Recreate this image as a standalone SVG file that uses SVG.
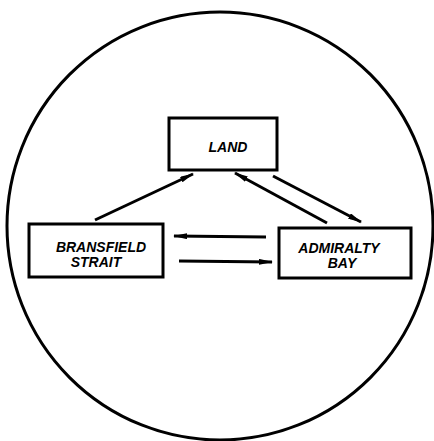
<svg xmlns="http://www.w3.org/2000/svg" width="434" height="441" viewBox="0 0 434 441">
<style>
.box{fill:#fff;stroke:#000;stroke-width:3}
.lbl{font-family:"Liberation Sans",Arial,sans-serif;font-weight:bold;font-style:italic;font-size:14px;fill:#000;text-anchor:middle}
.conn{stroke:#000;stroke-width:3;fill:none;marker-end:url(#ah)}
</style>
<defs>
<marker id="ah" viewBox="0 0 14 6" refX="13" refY="3" markerWidth="14" markerHeight="6" markerUnits="userSpaceOnUse" orient="auto">
<path d="M0,0 L14,3 L0,6 Z" fill="#000"/>
</marker>
</defs>
<rect width="434" height="441" fill="#fff"/>
<ellipse cx="220" cy="226" rx="213" ry="214" fill="none" stroke="#000" stroke-width="3"/>
<g id="connectors">
<line class="conn" x1="95" y1="220" x2="193" y2="174"/>
<line class="conn" x1="327" y1="223" x2="235" y2="173"/>
<line class="conn" x1="273" y1="176" x2="361" y2="222"/>
<line class="conn" x1="266" y1="237" x2="174" y2="236"/>
<line class="conn" x1="179" y1="261" x2="272" y2="262"/>
</g>
<g id="land">
<rect class="box" x="169" y="118" width="108" height="52"/>
<text class="lbl" x="228" y="152">LAND</text>
</g>
<g id="bransfield">
<rect class="box" x="29" y="224" width="134" height="53"/>
<text class="lbl" x="101" y="252">BRANSFIELD</text>
<text class="lbl" x="96" y="267">STRAIT</text>
</g>
<g id="admiralty">
<rect class="box" x="279" y="228" width="132" height="50"/>
<text class="lbl" x="339" y="253">ADMIRALTY</text>
<text class="lbl" x="342" y="268">BAY</text>
</g>
</svg>
